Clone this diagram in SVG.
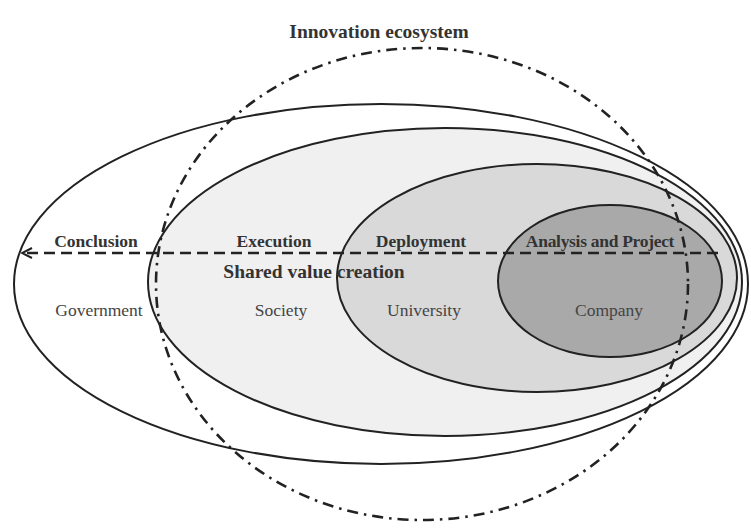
<svg xmlns="http://www.w3.org/2000/svg" width="751" height="529" viewBox="0 0 751 529">
  <defs>
    <style>
      .ring { stroke: #222; stroke-width: 2; }
      .eco { fill: none; stroke: #222; stroke-width: 2.6; stroke-dasharray: 11 6 2.5 6; }
      .flow { fill: none; stroke: #222; stroke-width: 2.6; stroke-dasharray: 11 6; }
      .stage { font-family: "Liberation Serif", "Times New Roman", serif; font-size: 17.5px; font-weight: bold; fill: #333; text-anchor: middle; }
      .actor { font-family: "Liberation Serif", "Times New Roman", serif; font-size: 17.5px; fill: #444; text-anchor: middle; }
      .title { font-family: "Liberation Serif", "Times New Roman", serif; font-size: 19.5px; font-weight: bold; fill: #333; text-anchor: middle; }
    </style>
    <marker id="arrow" markerWidth="12" markerHeight="12" refX="11" refY="6" orient="auto" markerUnits="userSpaceOnUse">
      <path d="M1,1 L11,6 L1,11" fill="none" stroke="#222" stroke-width="2"/>
    </marker>
  </defs>
  <rect width="751" height="529" fill="#fff"/>

  <!-- nested actor rings -->
  <g id="government">
    <ellipse class="ring" cx="381" cy="284" rx="367" ry="180" fill="#fff"/>
    <text class="actor" x="99" y="316">Government</text>
  </g>
  <g id="society">
    <ellipse class="ring" cx="445" cy="282" rx="297" ry="154" fill="#f0f0f0"/>
    <text class="actor" x="281" y="316">Society</text>
  </g>
  <g id="university">
    <ellipse class="ring" cx="537" cy="278" rx="200" ry="114" fill="#d9d9d9"/>
    <text class="actor" x="424" y="316">University</text>
  </g>
  <g id="company">
    <ellipse class="ring" cx="610" cy="281" rx="112" ry="76" fill="#a9a9a9"/>
    <text class="actor" x="609" y="316">Company</text>
  </g>

  <!-- ecosystem boundary and value flow -->
  <g id="connectors">
    <ellipse class="eco" cx="422" cy="284" rx="266" ry="236"/>
    <line class="flow" x1="718" y1="253" x2="22" y2="253" marker-end="url(#arrow)"/>
  </g>

  <g id="ecosystem-label">
    <text class="title" x="379" y="38">Innovation ecosystem</text>
  </g>
  <g id="stages">
    <text class="stage" x="96" y="247">Conclusion</text>
    <text class="stage" x="274" y="247">Execution</text>
    <text class="stage" x="421" y="247">Deployment</text>
    <text class="stage" x="600" y="247" letter-spacing="-0.3">Analysis and Project</text>
    <text class="title" x="314" y="278">Shared value creation</text>
  </g>
</svg>
